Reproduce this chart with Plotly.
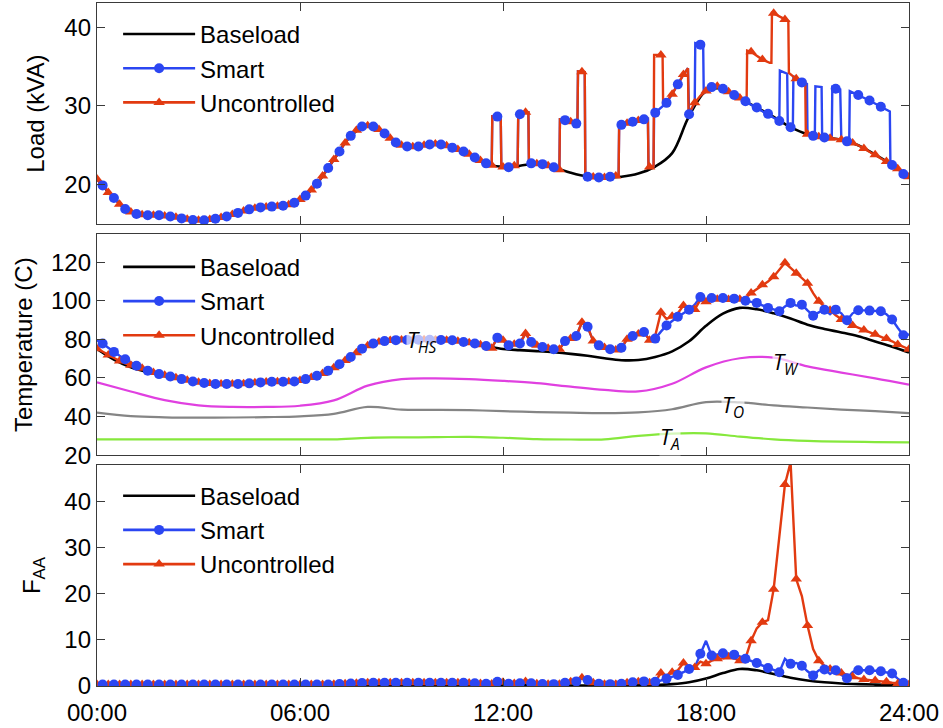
import plotly.graph_objects as go

# ---------------------------------------------------------------- axis labels
TICK_HOURS = [0, 6, 12, 18, 24]
TICK_TEXT = ["00:00", "06:00", "12:00", "18:00", "24:00"]

# ---------------------------------------------------------------- load (kVA)
# (minute of day, kVA). Smart and Uncontrolled share the same profile until 16:20.
LOAD_SHARED = [
    (0, 20.7), (10, 19.9), (20, 19.0), (30, 18.3), (40, 17.5), (50, 16.9), (60, 16.5),
    (70, 16.25), (80, 16.15), (90, 16.1), (100, 16.1), (110, 16.1), (120, 16.0),
    (130, 15.95), (140, 15.85), (150, 15.7), (160, 15.6), (170, 15.5), (180, 15.45),
    (190, 15.45), (200, 15.55), (210, 15.65), (220, 15.8), (230, 15.95), (240, 16.2),
    (250, 16.4), (260, 16.65), (270, 16.85), (280, 17.0), (290, 17.1), (300, 17.15),
    (310, 17.2), (320, 17.25), (330, 17.3), (340, 17.45), (350, 17.7), (360, 18.1),
    (370, 18.6), (380, 19.3), (390, 20.1), (400, 21.1), (410, 22.1), (420, 23.2),
    (430, 24.2), (440, 25.3), (450, 26.2), (460, 26.9), (470, 27.4), (480, 27.5),
    (490, 27.4), (500, 27.0), (510, 26.5), (520, 25.9), (530, 25.35), (540, 25.0),
    (550, 24.85), (560, 24.8), (570, 24.85), (580, 25.0), (590, 25.1), (600, 25.15),
    (610, 25.1), (620, 24.95), (630, 24.7), (640, 24.45), (650, 24.2), (660, 23.85),
    (670, 23.45), (680, 23.05), (690, 22.7), (700, 22.45), (701, 28.7), (710, 28.65),
    (716, 28.6), (717, 22.3), (720, 22.25), (730, 22.2), (740, 22.4), (746, 22.5),
    (747, 29.0), (750, 28.95), (760, 29.2), (765, 29.2), (766, 22.7), (770, 22.7),
    (780, 22.65), (790, 22.6), (800, 22.4), (810, 22.2), (820, 21.9), (821, 28.3),
    (830, 28.2), (840, 28.0), (850, 27.76), (852, 27.7), (853, 34.4), (860, 34.35),
    (865, 34.3), (866, 21.0), (870, 21.0), (880, 20.95), (890, 20.9), (900, 20.9),
    (910, 21.0), (920, 21.1), (925, 21.15), (926, 27.7), (930, 27.6), (940, 27.8),
    (950, 28.0), (960, 28.15), (970, 28.3), (977, 28.35), (978, 22.2), (980, 22.25),
]
LOAD_SMART_EVE = [
    (987, 22.3), (988, 29.0), (990, 29.15), (1000, 29.8), (1010, 30.4), (1020, 31.5),
    (1030, 32.75), (1040, 34.0), (1048, 34.8), (1049, 29.0), (1050, 28.95), (1060, 30.4),
    (1061, 38.0), (1070, 37.8), (1075, 37.7), (1076, 31.6), (1080, 31.9), (1090, 32.4),
    (1100, 32.5), (1110, 32.2), (1120, 31.8), (1130, 31.4), (1140, 31.0), (1150, 30.6),
    (1160, 30.2), (1170, 29.8), (1180, 29.4), (1190, 29.0), (1200, 28.6), (1210, 28.1),
    (1211, 34.5), (1224, 34.1), (1225, 27.6), (1230, 27.3), (1234, 27.1), (1235, 33.8),
    (1250, 33.0), (1259, 32.8), (1260, 26.4), (1270, 26.2), (1273, 26.2), (1274, 32.5),
    (1285, 32.4), (1286, 26.05), (1290, 26.0), (1300, 25.9), (1303, 25.85), (1304, 32.4),
    (1310, 32.2), (1318, 32.1), (1319, 25.75), (1320, 25.7), (1330, 25.5), (1334, 25.4),
    (1335, 31.9), (1350, 31.4), (1370, 30.7), (1390, 29.9), (1406, 29.3), (1407, 22.7),
    (1410, 22.5), (1420, 22.0), (1430, 21.35), (1440, 21.0),
]
LOAD_UNC_EVE = [
    (987, 22.3), (988, 36.5), (1000, 36.5), (1003, 36.5), (1004, 30.2), (1010, 30.6),
    (1020, 31.5), (1030, 32.75), (1040, 34.0), (1048, 34.8), (1049, 29.0), (1060, 30.4),
    (1070, 31.3), (1080, 31.9), (1090, 32.4), (1100, 32.5), (1110, 32.2), (1120, 31.8),
    (1130, 31.4), (1140, 31.0), (1150, 30.6), (1152, 30.5), (1153, 37.05), (1160, 36.9),
    (1170, 36.4), (1180, 35.9), (1193, 35.5), (1196, 35.5), (1197, 42.0), (1200, 41.8),
    (1210, 41.4), (1220, 41.0), (1226, 40.8), (1227, 34.2), (1240, 33.45), (1256, 33.1),
    (1257, 26.5), (1260, 26.4), (1270, 26.2), (1280, 26.1), (1290, 26.0), (1300, 25.9),
    (1310, 25.8), (1320, 25.7), (1330, 25.5), (1340, 25.3), (1350, 25.0), (1360, 24.6),
    (1370, 24.2), (1380, 23.8), (1390, 23.4), (1400, 22.95), (1410, 22.5), (1420, 22.0),
    (1430, 21.4), (1440, 21.0),
]
# Baseload, every 30 minutes from 00:00 to 24:00
LOAD_BASE = [
    20.7, 18.3, 16.5, 16.1, 16.0, 15.7, 15.45, 15.65, 16.2, 16.85,
    17.15, 17.3, 18.1, 20.1, 23.2, 26.2, 27.5, 26.5, 25.0, 24.85,
    25.15, 24.7, 23.85, 22.7, 22.25, 22.4, 22.65, 22.2, 21.5, 21.0,
    20.9, 21.0, 21.4, 22.3, 24.0, 28.7, 31.9, 32.2, 31.0, 29.8,
    28.6, 27.3, 26.4, 26.0, 25.7, 25.0, 23.8, 22.5, 21.0,
]

# ------------------------------------------------------------ temperature (C)
# Hot-spot temperature every 10 minutes.
TEMP_SMART_START = [79.5, 77.9, 75.7, 73.5, 71.5, 69.7, 68.0, 66.3, 65.0]          # 00:00-01:20
TEMP_UNC_START = [75.2, 73.5, 71.9, 70.3, 68.8, 67.5, 66.6, 65.8, 65.0]            # 00:00-01:20
TEMP_SHARED = [                                                                    # 01:30-16:20
    63.7, 62.8, 62.0, 61.4, 60.8, 60.1, 59.4, 58.8, 58.2, 57.8,
    57.4, 57.1, 56.9, 56.9, 56.9, 56.9, 56.9, 57.0, 57.2, 57.5,
    57.7, 57.9, 58.0, 58.0, 58.0, 58.1, 58.2, 58.7, 59.4, 60.2,
    61.1, 62.3, 63.7, 65.3, 67.1, 69.0, 70.9, 73.1, 75.2, 76.7,
    77.9, 78.6, 79.1, 79.4, 79.6, 79.7, 79.7, 79.7, 79.8, 79.8,
    79.8, 79.7, 79.7, 79.6, 79.5, 79.0, 78.6, 78.2, 77.9, 77.2,
    76.6, 75.4, 80.9, 79.5, 76.9, 77.5, 77.9, 83.1, 78.6, 77.0,
    76.0, 75.4, 74.9, 74.9, 79.1, 80.5, 81.7, 88.9, 86.5, 79.1,
    76.9, 75.8, 74.9, 74.5, 75.7, 80.0, 81.7, 82.8, 83.8, 79.6,
]
TEMP_SMART_EVE = [                                                                 # 16:30-24:00
    80.4, 84.0, 87.2, 89.5, 91.7, 93.5, 95.4, 98.0, 102.0, 100.5,
    101.4, 101.5, 101.4, 101.2, 101.1, 100.5, 100.0, 99.5, 98.9, 97.6,
    96.3, 95.5, 94.6, 97.0, 98.9, 97.5, 98.0, 95.0, 92.3, 94.0,
    95.4, 93.0, 95.4, 93.5, 89.9, 93.5, 95.1, 95.0, 94.9, 94.8,
    94.6, 93.0, 90.3, 86.0, 82.1, 82.5,
]
TEMP_UNC_EVE = [                                                                   # 16:30-24:00
    82.0, 94.0, 90.5, 92.0, 93.5, 97.5, 96.0, 95.5, 100.5, 99.5,
    101.0, 100.8, 101.0, 100.6, 100.5, 100.8, 101.5, 104.0, 106.0, 108.3,
    110.0, 112.5, 116.0, 119.7, 117.0, 114.3, 111.5, 109.1, 104.0, 99.7,
    97.0, 95.1, 92.5, 90.3, 88.5, 87.2, 86.0, 84.8, 83.7, 82.6,
    81.5, 80.4, 79.0, 77.4, 76.0, 74.9,
]
# Baseload hot-spot, every 30 minutes
TEMP_BASE = [
    75.0, 69.5, 65.5, 63.0, 61.0, 59.2, 57.8, 56.9, 56.9, 57.2,
    57.9, 58.0, 58.7, 61.1, 65.3, 70.9, 76.7, 79.1, 79.7, 79.8,
    79.7, 79.5, 78.2, 76.6, 75.0, 74.4, 73.9, 73.3, 72.5, 71.5,
    70.2, 69.2, 69.3, 70.9, 73.8, 79.0, 87.0, 93.3, 96.3, 95.6,
    93.5, 90.8, 87.6, 85.4, 83.6, 81.6, 78.9, 76.2, 73.2,
]
# Winding, top-oil and ambient temperatures, hourly
TEMP_W = [57.7, 53.0, 48.5, 45.8, 45.0, 45.0, 45.6, 48.4, 56.0, 59.4, 59.8, 59.4, 58.5,
          57.3, 55.5, 53.8, 53.0, 57.0, 65.5, 70.2, 70.5, 66.0, 62.8, 59.8, 56.5]
TEMP_O = [42.0, 40.2, 39.6, 39.4, 39.5, 39.7, 40.1, 41.4, 45.0, 43.6, 43.5, 43.3, 42.8,
          42.3, 42.0, 41.8, 42.2, 43.8, 47.5, 47.3, 45.8, 44.7, 43.6, 42.8, 41.8]
TEMP_A = [28.2, 28.2, 28.2, 28.2, 28.2, 28.2, 28.2, 28.2, 29.0, 29.2, 29.3, 29.5, 29.0,
          28.3, 28.1, 28.2, 30.0, 31.2, 31.3, 29.6, 28.2, 27.4, 27.0, 26.8, 26.6]

# ------------------------------------------------------- aging factor F_AA
FAA_SHARED = [                                                                     # 00:00-16:20
    0.35, 0.33, 0.31, 0.3, 0.3, 0.3, 0.3,
    0.3, 0.3, 0.3, 0.3, 0.3, 0.3, 0.3, 0.3, 0.3, 0.3, 0.3, 0.3, 0.3, 0.3, 0.3, 0.3, 0.3,
    0.3, 0.3, 0.3, 0.3, 0.3, 0.3, 0.3, 0.3, 0.3, 0.3, 0.3, 0.3, 0.3, 0.3, 0.3, 0.3, 0.3,
    0.32, 0.36, 0.42, 0.48, 0.54, 0.6,
    0.64, 0.68, 0.7, 0.72, 0.72, 0.72, 0.72, 0.72, 0.72, 0.72, 0.72, 0.72, 0.72, 0.72,
    0.72, 0.7, 0.7, 0.7,
    0.68, 0.65, 0.6, 0.55, 0.5, 0.45,
    0.9, 0.8, 0.5, 0.55, 0.6, 1.0, 0.6, 0.5, 0.45, 0.4, 0.4, 0.4, 0.7, 0.9, 1.0, 1.8,
    1.3, 0.7, 0.5, 0.4, 0.4, 0.4, 0.5, 0.7, 0.8, 0.9, 1.0, 0.7,
]
FAA_SMART_EVE = [                                                                  # 16:30-24:00
    0.9, 1.2, 1.6, 2.0, 2.4, 3.0, 3.7, 4.0, 7.0, 9.8,
    6.6, 6.9, 7.1, 7.0, 6.8, 6.4, 5.9, 5.4, 5.0, 4.4,
    3.9, 3.4, 3.0, 5.9, 4.8, 5.0, 4.4, 3.2, 2.3, 3.4,
    3.6, 2.6, 3.4, 2.4, 1.7, 3.0, 3.4, 3.4, 3.4, 3.3,
    3.2, 3.0, 2.7, 1.6, 0.7, 0.6,
]
FAA_UNC_EVE = [                                                                    # 16:30-24:00
    1.0, 2.8, 2.0, 3.0, 3.4, 5.0, 4.3, 4.0, 5.3, 4.8,
    5.5, 5.9, 6.0, 6.3, 6.0, 5.5, 6.0, 9.8, 12.5, 13.8,
    14.3, 21.0, 32.5, 43.7, 48.5, 23.2, 19.5, 13.1, 8.0, 5.5,
    4.4, 3.7, 3.2, 2.8, 2.4, 2.0, 1.7, 1.4, 1.3, 1.2,
    1.0, 0.9, 0.7, 0.5, 0.4, 0.3,
]
FAA_BASE = [                                                                       # every 30 min
    0.12, 0.1, 0.08, 0.07, 0.06, 0.06, 0.05, 0.05, 0.05, 0.05,
    0.05, 0.05, 0.06, 0.07, 0.09, 0.13, 0.18, 0.2, 0.21, 0.21,
    0.21, 0.2, 0.18, 0.16, 0.14, 0.13, 0.12, 0.11, 0.1, 0.09,
    0.09, 0.1, 0.13, 0.2, 0.4, 0.8, 1.6, 2.8, 3.7, 3.4,
    2.6, 1.8, 1.2, 0.8, 0.55, 0.4, 0.3, 0.22, 0.18,
]

# ---------------------------------------------------------------- styling
BLUE = "#2b46f2"
RED = "#e23a10"
BLACK = "#000000"
MAGENTA = "#e040e0"
GREY = "#858585"
GREEN = "#86e83c"
FONT = "Liberation Sans, Arial, Helvetica, sans-serif"
AXIS_COLOR = "#3a3a3a"


def hours_from_pairs(pairs):
    return [m / 60 for m, _ in pairs], [v for _, v in pairs]


def grid_hours(values, step_min):
    return [i * step_min / 60 for i in range(len(values))]


fig = go.Figure()


def add_panel(axis_n, base_x, base_y, smart_x, smart_y, unc_x, unc_y,
              smart_mark, unc_mark, base_shape="spline"):
    xa = "x" if axis_n == 1 else f"x{axis_n}"
    ya = "y" if axis_n == 1 else f"y{axis_n}"
    leg = "legend" if axis_n == 1 else f"legend{axis_n}"
    fig.add_trace(go.Scatter(x=base_x, y=base_y, mode="lines", xaxis=xa, yaxis=ya,
                             line=dict(color=BLACK, width=2.6, shape=base_shape),
                             showlegend=False, hoverinfo="skip"))
    fig.add_trace(go.Scatter(x=smart_x, y=smart_y, mode="lines", xaxis=xa, yaxis=ya,
                             line=dict(color=BLUE, width=2.4), showlegend=False))
    fig.add_trace(go.Scatter(x=unc_x, y=unc_y, mode="lines", xaxis=xa, yaxis=ya,
                             line=dict(color=RED, width=2.4), showlegend=False))
    ux = [x for x, keep in zip(unc_x, unc_mark) if keep]
    uy = [y for y, keep in zip(unc_y, unc_mark) if keep]
    sx = [x for x, keep in zip(smart_x, smart_mark) if keep]
    sy = [y for y, keep in zip(smart_y, smart_mark) if keep]
    fig.add_trace(go.Scatter(x=ux, y=uy, mode="markers", xaxis=xa, yaxis=ya,
                             marker=dict(symbol="triangle-up", size=10, color=RED),
                             showlegend=False))
    fig.add_trace(go.Scatter(x=sx, y=sy, mode="markers", xaxis=xa, yaxis=ya,
                             marker=dict(symbol="circle", size=10, color=BLUE),
                             showlegend=False))
    # legend entries
    for name, color, sym, mode in [("Baseload", BLACK, "circle", "lines"),
                                   ("Smart", BLUE, "circle", "lines+markers"),
                                   ("Uncontrolled", RED, "triangle-up", "lines+markers")]:
        fig.add_trace(go.Scatter(x=[None], y=[None], mode=mode, name=name, xaxis=xa, yaxis=ya,
                                 legend=leg,
                                 line=dict(color=color, width=2.6),
                                 marker=dict(symbol=sym, size=10, color=color)))


# Load panel
load_smart = LOAD_SHARED + LOAD_SMART_EVE
load_unc = LOAD_SHARED + LOAD_UNC_EVE
lsx, lsy = hours_from_pairs(load_smart)
lux, luy = hours_from_pairs(load_unc)
add_panel(1, grid_hours(LOAD_BASE, 30), LOAD_BASE, lsx, lsy, lux, luy,
          [m % 20 == 10 for m, _ in load_smart], [m % 20 == 0 for m, _ in load_unc])

# Temperature panel: auxiliary temperatures first
for vals, color in [(TEMP_A, GREEN), (TEMP_O, GREY), (TEMP_W, MAGENTA)]:
    fig.add_trace(go.Scatter(x=grid_hours(vals, 60), y=vals, mode="lines", xaxis="x2", yaxis="y2",
                             line=dict(color=color, width=2.2, shape="spline"),
                             showlegend=False, hoverinfo="skip"))
temp_smart = TEMP_SMART_START + TEMP_SHARED + TEMP_SMART_EVE
temp_unc = TEMP_UNC_START + TEMP_SHARED + TEMP_UNC_EVE
add_panel(2, grid_hours(TEMP_BASE, 30), TEMP_BASE,
          grid_hours(temp_smart, 10), temp_smart, grid_hours(temp_unc, 10), temp_unc,
          [i % 2 == 1 for i in range(len(temp_smart))], [i % 2 == 0 for i in range(len(temp_unc))])

# Aging factor panel
faa_smart = FAA_SHARED + FAA_SMART_EVE
faa_unc = FAA_SHARED + FAA_UNC_EVE
add_panel(3, grid_hours(FAA_BASE, 30), FAA_BASE,
          grid_hours(faa_smart, 10), faa_smart, grid_hours(faa_unc, 10), faa_unc,
          [i % 2 == 1 for i in range(len(faa_smart))], [i % 2 == 0 for i in range(len(faa_unc))])

axis_common = dict(showline=True, linecolor=AXIS_COLOR, linewidth=1.3, mirror="ticks",
                   ticks="inside", ticklen=8, tickwidth=1.2, tickcolor=AXIS_COLOR,
                   showgrid=False, zeroline=False,
                   tickfont=dict(family=FONT, size=24, color="black"))

x_common = dict(axis_common, range=[0, 24], tickvals=TICK_HOURS, ticktext=TICK_TEXT)
fig.update_layout(
    xaxis=dict(x_common, anchor="y", domain=[0, 1], showticklabels=False),
    xaxis2=dict(x_common, anchor="y2", domain=[0, 1], showticklabels=False),
    xaxis3=dict(x_common, anchor="y3", domain=[0, 1], showticklabels=True, ticklabelstandoff=5),
    yaxis=dict(axis_common, anchor="x", domain=[0.676, 1.0], range=[14.95, 43.1],
               tickvals=[20, 30, 40],
               title=dict(text="Load (kVA)", standoff=12,
                          font=dict(family=FONT, size=24, color="black"))),
    yaxis2=dict(axis_common, anchor="x2", domain=[0.338, 0.6615], range=[20, 134.5],
                tickvals=[20, 40, 60, 80, 100, 120],
                title=dict(text="Temperature (C)", standoff=11,
                           font=dict(family=FONT, size=24, color="black"))),
    yaxis3=dict(axis_common, anchor="x3", domain=[0, 0.3234], range=[0, 47.9],
                tickvals=[0, 10, 20, 30, 40],
                title=dict(text="F<sub>AA</sub>", standoff=16,
                           font=dict(family=FONT, size=24, color="black"))),
)

legend_common = dict(font=dict(family=FONT, size=24, color="black"), bgcolor="rgba(0,0,0,0)",
                     xanchor="left", yanchor="top", x=0.026, tracegroupgap=0, itemwidth=72)
fig.update_layout(
    legend=dict(legend_common, y=0.987),
    legend2=dict(legend_common, y=0.646),
    legend3=dict(legend_common, y=0.311),
)

# Curve labels in the temperature panel
label_font = dict(family="Open Sans, DejaVu Sans, sans-serif", size=22, color="black")
for text, hx, yv in [("<i>T</i><sub><i>HS</i></sub>", 9.6, 79.0),
                     ("<i>T</i><sub><i>W</i></sub>", 20.35, 68.0),
                     ("<i>T</i><sub><i>O</i></sub>", 18.8, 45.5),
                     ("<i>T</i><sub><i>A</i></sub>", 16.94, 28.8)]:
    fig.add_annotation(x=hx, y=yv, xref="x2", yref="y2", text=text, showarrow=False,
                       font=label_font, bgcolor="rgba(255,255,255,0.65)", borderpad=0)

fig.update_layout(
    width=943, height=728,
    margin=dict(l=97, r=34, t=2, b=41),
    paper_bgcolor="white", plot_bgcolor="white",
)

fig.write_html("out.html")
